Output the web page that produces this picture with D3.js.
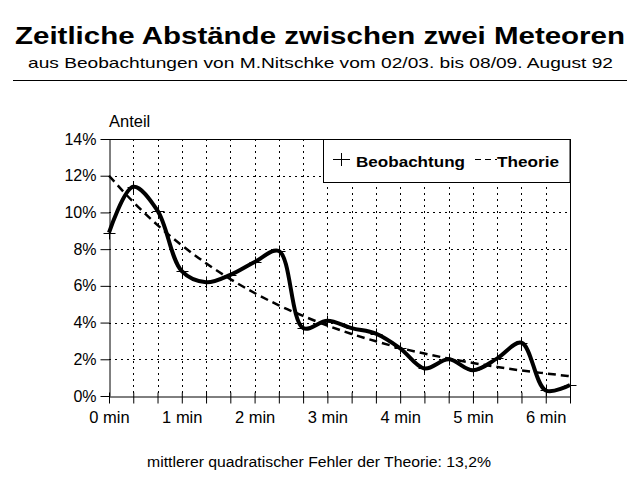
<!DOCTYPE html>
<html><head><meta charset="utf-8">
<script src="https://cdn.jsdelivr.net/npm/d3@7"></script>
<style>
html,body{margin:0;padding:0;background:#fff;}
svg{display:block;font-family:"Liberation Sans",Arial,Helvetica,sans-serif;}
</style></head>
<body>
<svg id="c" width="640" height="480"></svg>
<script>
// Data: time in seconds (every 20 s), share in percent
const seconds = [0,20,40,60,80,100,120,140,160,180,200,220,240,260,280,300,320,340,360,380];
const beobachtung = [8.9,11.4,10.1,6.8,6.2,6.6,7.3,7.9,3.7,4.1,3.7,3.4,2.6,1.5,2.0,1.4,2.05,2.9,0.3,0.6];
const theorie = [12.0,10.57,9.31,8.21,7.23,6.37,5.61,4.94,4.36,3.84,3.38,2.98,2.62,2.31,2.04,1.80,1.58,1.39,1.23,1.08];
const xLabelSeconds = [0,60,120,180,240,300,360];
const yTicks = [0,2,4,6,8,10,12,14];
const title = "Zeitliche Abstände zwischen zwei Meteoren";
const subtitle = "aus Beobachtungen von M.Nitschke vom 02/03. bis 08/09. August 92";
const yTitle = "Anteil";
const note = "mittlerer quadratischer Fehler der Theorie: 13,2%";
const legendLabels = ["Beobachtung","Theorie"];

const svg = d3.select("#c");
const L=109, R=570, T=139, B=396;
const x = d3.scaleLinear().domain([0,380]).range([L,R]);
const y = d3.scaleLinear().domain([0,14]).range([B,T]);

// Title block
svg.append("text").attr("x",15).attr("y",44)
  .attr("font-size",24).attr("font-weight","bold")
  .attr("textLength",610).attr("lengthAdjust","spacingAndGlyphs").text(title);
svg.append("text").attr("x",28).attr("y",68)
  .attr("font-size",15)
  .attr("textLength",585).attr("lengthAdjust","spacingAndGlyphs").text(subtitle);
svg.append("line").attr("x1",13).attr("x2",627).attr("y1",80.5).attr("y2",80.5)
  .attr("stroke","#000").attr("stroke-width",1);

// Grid
const g = svg.append("g");
g.selectAll(".vg").data(seconds.filter(s=>s>0 && s<380)).join("line")
  .attr("x1",d=>Math.round(x(d))+0.5).attr("x2",d=>Math.round(x(d))+0.5)
  .attr("y1",T).attr("y2",B)
  .attr("stroke","#000").attr("stroke-width",1).attr("stroke-dasharray","2,4");
g.selectAll(".hg").data(yTicks.filter(v=>v>0 && v<14)).join("line")
  .attr("x1",L).attr("x2",R)
  .attr("y1",d=>Math.round(y(d))+0.5).attr("y2",d=>Math.round(y(d))+0.5)
  .attr("stroke","#000").attr("stroke-width",1).attr("stroke-dasharray","2,4");

// Axes
const xAxis = d3.axisBottom(x).tickValues(seconds).tickSizeInner(7).tickSizeOuter(0)
  .tickFormat(d=> xLabelSeconds.includes(d) ? (d/60)+" min" : "");
const gx = svg.append("g").attr("transform",`translate(0,${B+0.5})`).call(xAxis);
gx.selectAll("text").attr("font-size",16.5).attr("font-family","Liberation Sans, Arial, sans-serif").attr("fill","#000").attr("dy","0.98em");
gx.selectAll("line").attr("stroke","#000").attr("y1",-4);
gx.select(".domain").attr("stroke","#000");

const yAxis = d3.axisLeft(y).tickValues(yTicks).tickSizeInner(9).tickSizeOuter(0)
  .tickFormat(d=>d+"%");
const gy = svg.append("g").attr("transform",`translate(${L+0.5},0)`).call(yAxis);
gy.selectAll("text").attr("font-size",16).attr("font-family","Liberation Sans, Arial, sans-serif").attr("fill","#000").attr("x",-13);
gy.selectAll("line").attr("stroke","#000");
gy.select(".domain").attr("stroke","#000");
// extend y axis below the x axis
svg.append("line").attr("x1",L+0.5).attr("x2",L+0.5).attr("y1",B).attr("y2",B+7).attr("stroke","#000");

// Frame: top and right
svg.append("line").attr("x1",L).attr("x2",R+0.5).attr("y1",T+0.5).attr("y2",T+0.5).attr("stroke","#000");
svg.append("line").attr("x1",R+0.5).attr("x2",R+0.5).attr("y1",T).attr("y2",B).attr("stroke","#000");

svg.append("text").attr("x",L).attr("y",127).attr("font-size",16.5).text(yTitle);

// Theory dashed
const pts = seconds.map((s,i)=>({s, o:beobachtung[i], t:theorie[i]}));
svg.append("path").datum(pts)
  .attr("d", d3.line().x(d=>x(d.s)).y(d=>y(d.t)).curve(d3.curveMonotoneX))
  .attr("fill","none").attr("stroke","#000").attr("stroke-width",2.5).attr("stroke-dasharray","8,5");

// Observation smooth line
svg.append("path").datum(pts)
  .attr("d", d3.line().x(d=>x(d.s)).y(d=>y(d.o)).curve(d3.curveCatmullRom.alpha(0.5)))
  .attr("fill","none").attr("stroke","#000").attr("stroke-width",4).attr("stroke-linejoin","round");

// Cross markers
const cross = svg.append("g").selectAll("g").data(pts).join("g")
  .attr("transform",d=>`translate(${Math.round(x(d.s))+0.5},${Math.round(y(d.o))+0.5})`);
cross.append("line").attr("x1",-6).attr("x2",6).attr("stroke","#000");
cross.append("line").attr("y1",-6).attr("y2",6).attr("stroke","#000");

// Legend
const lg = svg.append("g");
lg.append("rect").attr("x",323.5).attr("y",139.5).attr("width",246.5).attr("height",43)
  .attr("fill","#fff").attr("stroke","#000");
lg.append("line").attr("x1",333).attr("x2",350).attr("y1",159.5).attr("y2",159.5).attr("stroke","#000");
lg.append("line").attr("x1",341.5).attr("x2",341.5).attr("y1",153).attr("y2",166).attr("stroke","#000");
lg.append("text").attr("x",356).attr("y",167).attr("font-size",15).attr("font-weight","bold")
  .attr("textLength",109).attr("lengthAdjust","spacingAndGlyphs").text(legendLabels[0]);
lg.append("line").attr("x1",475).attr("x2",497).attr("y1",159.5).attr("y2",159.5)
  .attr("stroke","#000").attr("stroke-width",1).attr("stroke-dasharray","6,4");
lg.append("text").attr("x",497).attr("y",167).attr("font-size",15).attr("font-weight","bold")
  .attr("textLength",62).attr("lengthAdjust","spacingAndGlyphs").text(legendLabels[1]);

// Note
svg.append("text").attr("x",147).attr("y",467)
  .attr("font-size",14)
  .attr("textLength",344).attr("lengthAdjust","spacingAndGlyphs").text(note);
</script>
</body></html>
